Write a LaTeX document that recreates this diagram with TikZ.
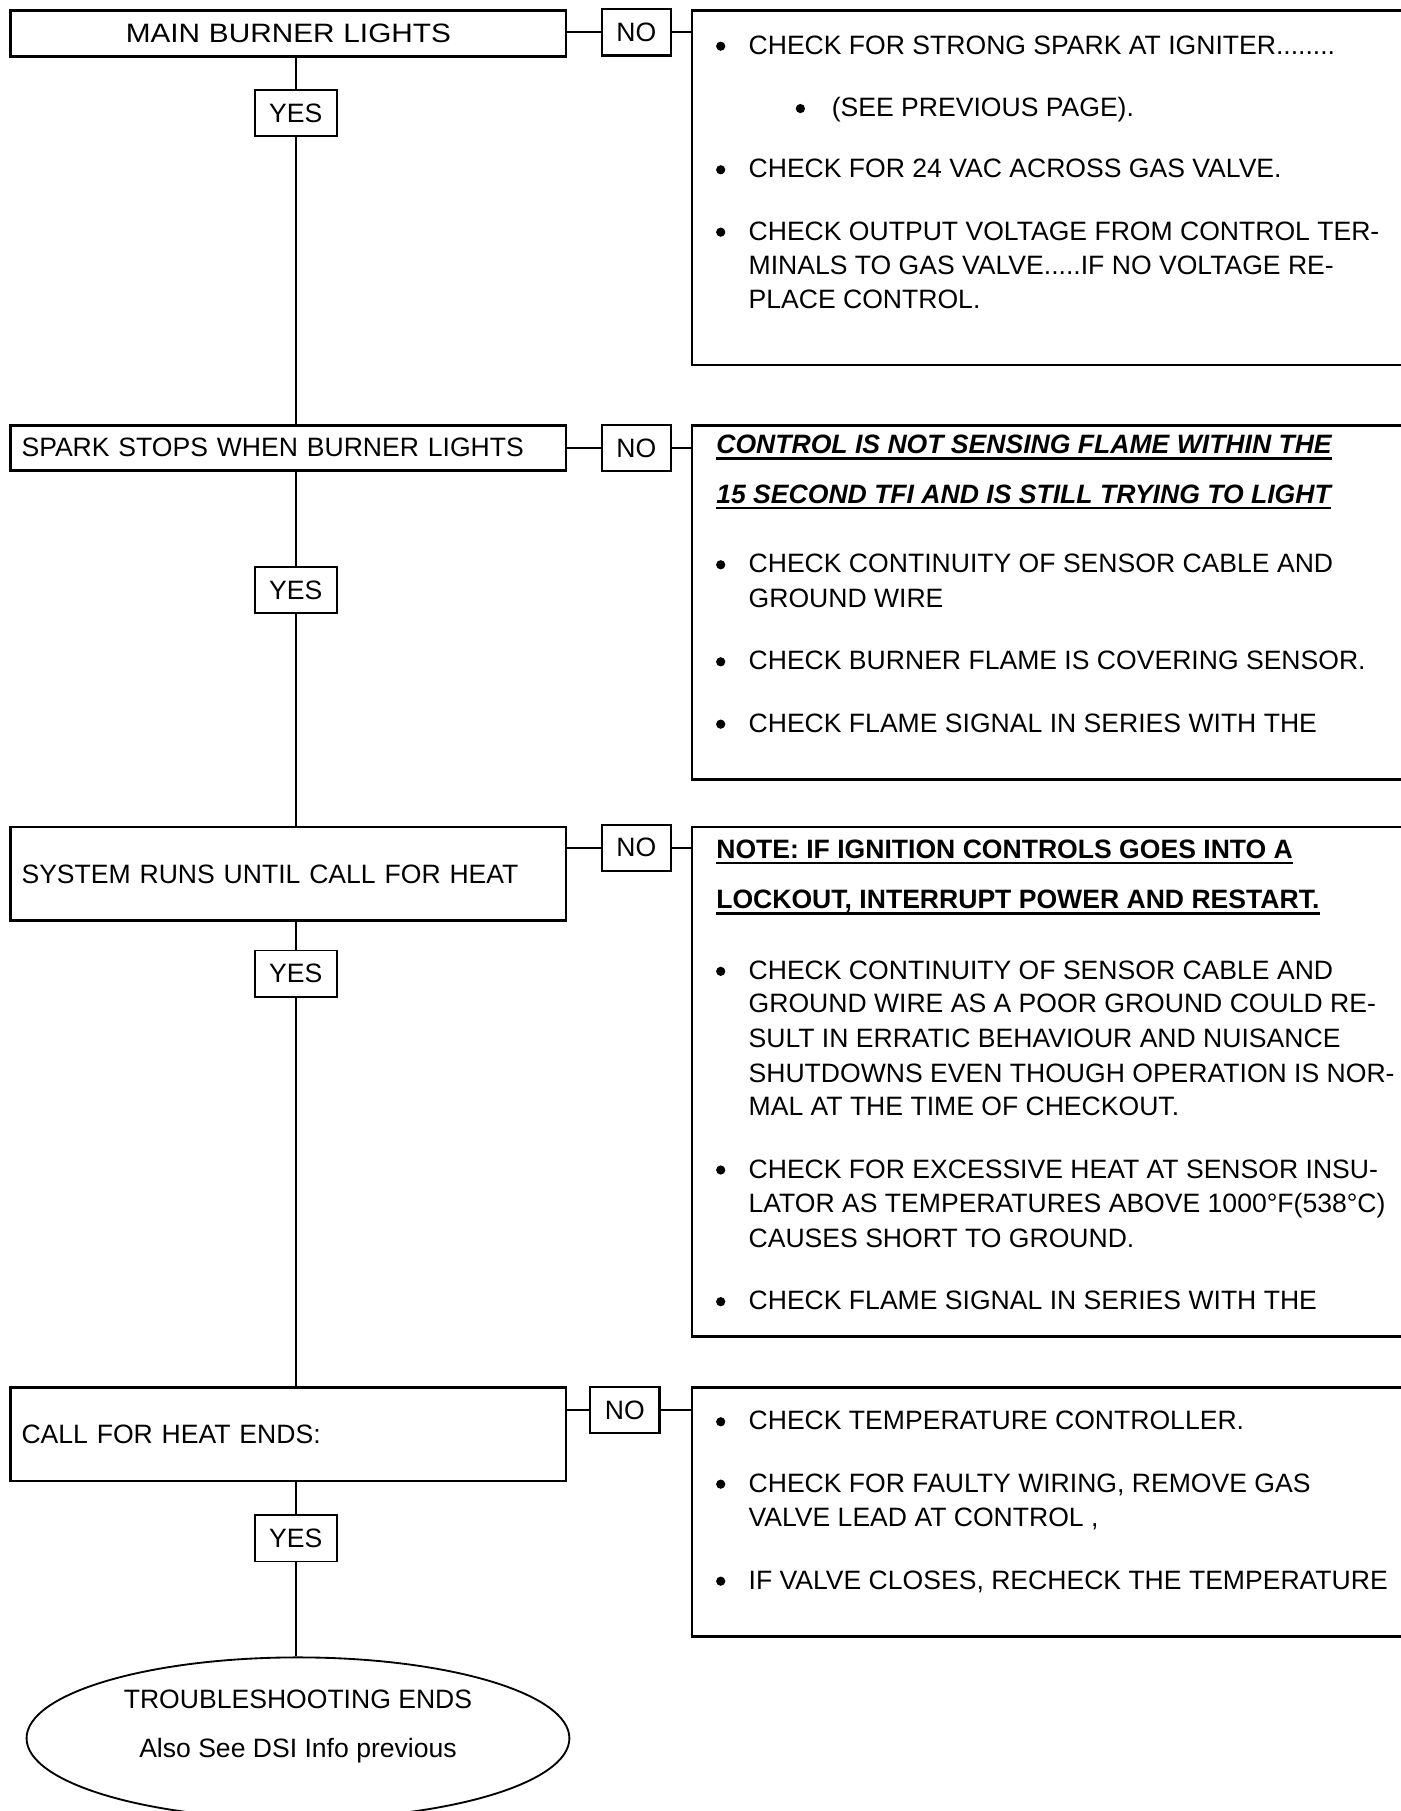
\documentclass[tikz,border=0pt]{standalone}
\usepackage{fontspec}
\setmainfont{Liberation Sans}
\usetikzlibrary{shapes.geometric}
\newcommand{\flowfont}{\fontsize{23}{29.6}\selectfont}

\begin{document}
\begin{tikzpicture}[x=1pt,y=-1pt,
    every node/.style={font=\flowfont},
    stepbox/.style={draw,line width=2.3pt,anchor=north west,inner xsep=9.5pt,inner ysep=0pt,text width=462pt},
    nobox/.style={draw,line width=2pt,minimum width=60pt,minimum height=40pt,inner sep=0pt},
    yesbox/.style={draw,line width=1.6pt,minimum width=71pt,minimum height=40pt,inner sep=0pt},
    infobox/.style={draw,line width=2.3pt,anchor=north west,minimum width=660pt,inner sep=0pt},
    wire/.style={line width=1.5pt},
    txt/.style={anchor=base west,inner sep=0pt},
    bul/.style={circle,fill,inner sep=0pt,minimum size=8pt},
    ul/.style={line width=2pt}]
  \useasboundingbox (0,0) rectangle (1213,1568);
  \fill[white] (0,0) rectangle (1213,1568);

  % questions down the left
  \node[stepbox,minimum height=40pt,align=center,font=\flowfont\addfontfeature{FakeStretch=1.12}] (q1) at (8,8) {MAIN BURNER LIGHTS};
  \node[stepbox,minimum height=39pt,align=left] (q2) at (8,367) {SPARK STOPS WHEN BURNER LIGHTS};
  \node[stepbox,minimum height=81pt,align=left] (q3) at (8,715) {SYSTEM RUNS UNTIL CALL FOR HEAT};
  \node[stepbox,minimum height=81pt,align=left] (q4) at (8,1200) {CALL FOR HEAT ENDS:};

  \node[yesbox] (y1) at (256,98) {YES};
  \node[yesbox] (y2) at (256,511) {YES};
  \node[yesbox] (y3) at (256,843) {YES};
  \node[yesbox] (y4) at (256,1332) {YES};

  \node[nobox] (n1) at (551,28) {NO};
  \node[nobox] (n2) at (551,388) {NO};
  \node[nobox] (n3) at (551,734) {NO};
  \node[nobox] (n4) at (541,1221) {NO};

  % remedy boxes, running off the right edge
  \node[infobox,minimum height=307pt] (r1) at (598,8) {};
  \node[infobox,minimum height=307pt] (r2) at (598,367) {};
  \node[infobox,minimum height=441pt] (r3) at (598,715) {};
  \node[infobox,minimum height=216pt] (r4) at (598,1200) {};

  \node[draw,ellipse,line width=1.6pt,minimum width=470pt,minimum height=140pt,inner sep=0pt] (fin) at (258,1505) {};
  \node[anchor=base,inner sep=0pt] (fin1) at (258,1479) {TROUBLESHOOTING ENDS};
  \node[anchor=base,inner sep=0pt] (fin2) at (258,1522) {Also See DSI Info previous};

  % connectors
  \foreach \i/\j in {1/2,2/3,3/4}{
    \draw[wire] (y\i |- q\i.south) -- (y\i.north);
    \draw[wire] (y\i.south) -- (y\i |- q\j.north);
  }
  \draw[wire] (y4 |- q4.south) -- (y4.north);
  \draw[wire] (y4.south) -- (y4 |- fin.north);
  \foreach \i in {1,...,4}
    \draw[wire] (q\i.east |- n\i) -- (n\i) -- (n\i -| r\i.west);

  % headings
  \node[txt,font=\flowfont\bfseries\itshape] (h1) at (620,393) {CONTROL IS NOT SENSING FLAME WITHIN THE};
  \node[txt,font=\flowfont\bfseries\itshape] (h2) at (620,436) {15 SECOND TFI AND IS STILL TRYING TO LIGHT};
  \node[txt,font=\flowfont\bfseries] (h3) at (620,743) {NOTE: IF IGNITION CONTROLS GOES INTO A};
  \node[txt,font=\flowfont\bfseries] (h4) at (620,787) {LOCKOUT, INTERRUPT POWER AND RESTART.};
  \foreach \h in {h1,h2,h3,h4}
    \draw[ul] ([yshift=-4pt]\h.base west) -- ([yshift=-4pt]\h.base east);

  % bullet text
  \foreach \yy/\lbl in {47/{CHECK FOR STRONG SPARK AT IGNITER........},
      154/{CHECK FOR 24 VAC ACROSS GAS VALVE.},
      208/{CHECK OUTPUT VOLTAGE FROM CONTROL TER-},
      238/{MINALS TO GAS VALVE.....IF NO VOLTAGE RE-},
      267/{PLACE CONTROL.},
      496/{CHECK CONTINUITY OF SENSOR CABLE AND},
      526/{GROUND WIRE},
      580/{CHECK BURNER FLAME IS COVERING SENSOR.},
      634/{CHECK FLAME SIGNAL IN SERIES WITH THE},
      848/{CHECK CONTINUITY OF SENSOR CABLE AND},
      877/{GROUND WIRE AS A POOR GROUND COULD RE-},
      907/{SULT IN ERRATIC BEHAVIOUR AND NUISANCE},
      937/{SHUTDOWNS EVEN THOUGH OPERATION IS NOR-},
      966/{MAL AT THE TIME OF CHECKOUT.},
      1020/{CHECK FOR EXCESSIVE HEAT AT SENSOR INSU-},
      1050/{LATOR AS TEMPERATURES ABOVE 1000°F(538°C)},
      1080/{CAUSES SHORT TO GROUND.},
      1134/{CHECK FLAME SIGNAL IN SERIES WITH THE},
      1238/{CHECK TEMPERATURE CONTROLLER.},
      1292/{CHECK FOR FAULTY WIRING, REMOVE GAS},
      1322/{VALVE LEAD AT CONTROL ,},
      1376/{IF VALVE CLOSES, RECHECK THE TEMPERATURE}}
    \node[txt] (l\yy) at (648,\yy) {\lbl};
  \foreach \yy in {47,154,208,496,580,634,848,1020,1134,1238,1292,1376}
    \node[bul] (d\yy) at (624,\yy-7) {};
  \node[bul] (d101) at (693,94) {};
  \node[txt] (l101) at (720,101) {(SEE PREVIOUS PAGE).};
\end{tikzpicture}
\end{document}
